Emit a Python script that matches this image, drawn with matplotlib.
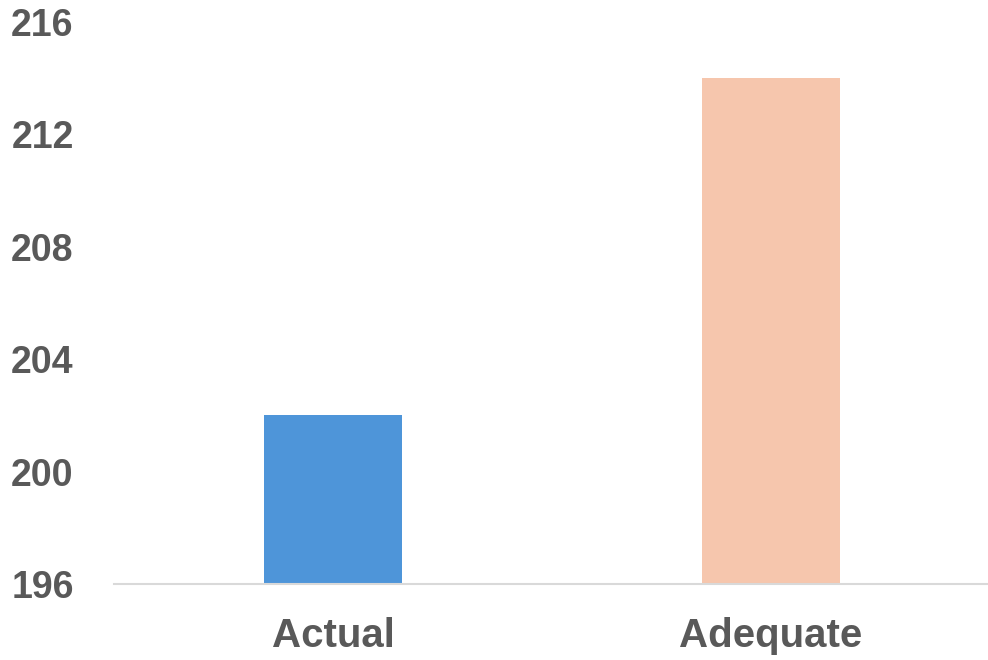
import matplotlib
matplotlib.use("Agg")
import matplotlib.pyplot as plt
import numpy as np

categories = ["Actual", "Adequate"]
values = [202, 214]
bar_colors = ["#4E95D9", "#F6C6AD"]
yticks = [196, 200, 204, 208, 212, 216]

plt.rcParams['font.family'] = ['Liberation Sans', 'DejaVu Sans']

fig = plt.figure(figsize=(9.88, 6.6), dpi=100)
ax = fig.add_axes([114 / 988, 1 - 584 / 660, 876 / 988, (584 - 22) / 660])

x = np.arange(len(categories))
ax.bar(x, values, width=0.315, color=bar_colors, zorder=2)

ax.set_xlim(-0.5, 1.5)
ax.set_ylim(196, 216)
ax.set_yticks(yticks)
ax.set_yticklabels([str(t) for t in yticks])
ax.set_xticks(x)
ax.set_xticklabels(categories)

for s in ["top", "right", "left"]:
    ax.spines[s].set_visible(False)
ax.spines["bottom"].set_color("#D9D9D9")
ax.spines["bottom"].set_linewidth(1.5)
ax.spines["bottom"].set_zorder(3)

ax.tick_params(axis="y", length=0, pad=29, labelsize=27, labelcolor="#595959")
ax.tick_params(axis="x", length=0, pad=24, labelsize=29, labelcolor="#595959")
for lbl in ax.get_yticklabels() + ax.get_xticklabels():
    lbl.set_fontweight("bold")

fig.savefig("out.png", dpi=100)
